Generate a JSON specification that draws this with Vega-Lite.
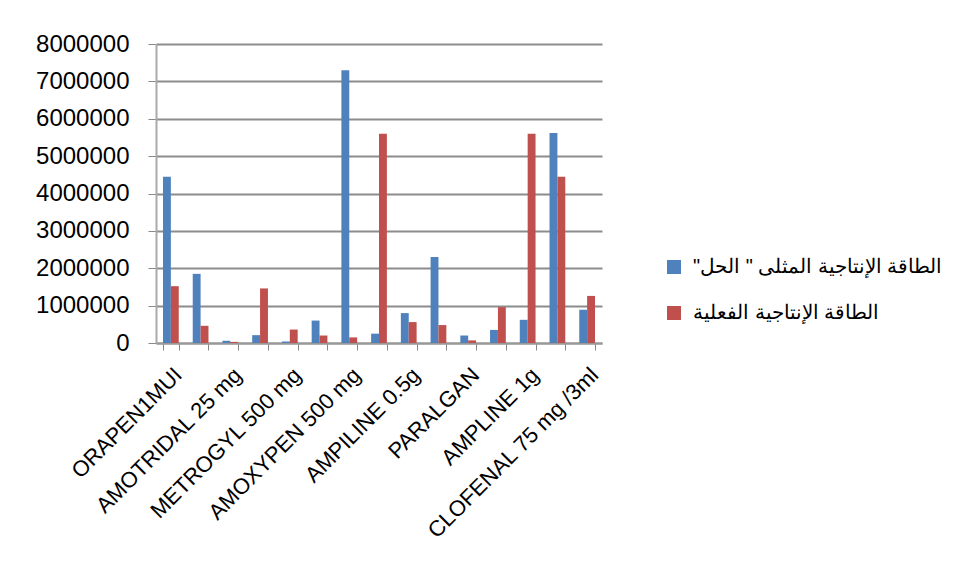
{
  "$schema": "https://vega.github.io/schema/vega-lite/v6.json",
  "width": 446,
  "height": 299,
  "padding": {"left": 35, "top": 32, "right": 10, "bottom": 10},
  "background": "white",
  "config": {
    "font": "Liberation Sans",
    "view": {"stroke": null}
  },
  "data": {
    "values": [
      {"drug": "ORAPEN1MUI", "idx": 0, "series": "الطاقة الإنتاجية المثلى \" الحل\"\u200F", "value": 4450000},
      {"drug": "ORAPEN1MUI", "idx": 0, "series": "الطاقة الإنتاجية الفعلية", "value": 1520000},
      {"drug": "Product 2", "idx": 1, "series": "الطاقة الإنتاجية المثلى \" الحل\"\u200F", "value": 1850000},
      {"drug": "Product 2", "idx": 1, "series": "الطاقة الإنتاجية الفعلية", "value": 460000},
      {"drug": "AMOTRIDAL 25 mg", "idx": 2, "series": "الطاقة الإنتاجية المثلى \" الحل\"\u200F", "value": 60000},
      {"drug": "AMOTRIDAL 25 mg", "idx": 2, "series": "الطاقة الإنتاجية الفعلية", "value": 30000},
      {"drug": "Product 4", "idx": 3, "series": "الطاقة الإنتاجية المثلى \" الحل\"\u200F", "value": 210000},
      {"drug": "Product 4", "idx": 3, "series": "الطاقة الإنتاجية الفعلية", "value": 1460000},
      {"drug": "METROGYL 500 mg", "idx": 4, "series": "الطاقة الإنتاجية المثلى \" الحل\"\u200F", "value": 40000},
      {"drug": "METROGYL 500 mg", "idx": 4, "series": "الطاقة الإنتاجية الفعلية", "value": 360000},
      {"drug": "Product 6", "idx": 5, "series": "الطاقة الإنتاجية المثلى \" الحل\"\u200F", "value": 600000},
      {"drug": "Product 6", "idx": 5, "series": "الطاقة الإنتاجية الفعلية", "value": 200000},
      {"drug": "AMOXYPEN 500 mg", "idx": 6, "series": "الطاقة الإنتاجية المثلى \" الحل\"\u200F", "value": 7300000},
      {"drug": "AMOXYPEN 500 mg", "idx": 6, "series": "الطاقة الإنتاجية الفعلية", "value": 150000},
      {"drug": "Product 8", "idx": 7, "series": "الطاقة الإنتاجية المثلى \" الحل\"\u200F", "value": 250000},
      {"drug": "Product 8", "idx": 7, "series": "الطاقة الإنتاجية الفعلية", "value": 5600000},
      {"drug": "AMPILINE 0.5g", "idx": 8, "series": "الطاقة الإنتاجية المثلى \" الحل\"\u200F", "value": 800000},
      {"drug": "AMPILINE 0.5g", "idx": 8, "series": "الطاقة الإنتاجية الفعلية", "value": 560000},
      {"drug": "Product 10", "idx": 9, "series": "الطاقة الإنتاجية المثلى \" الحل\"\u200F", "value": 2300000},
      {"drug": "Product 10", "idx": 9, "series": "الطاقة الإنتاجية الفعلية", "value": 480000},
      {"drug": "PARALGAN", "idx": 10, "series": "الطاقة الإنتاجية المثلى \" الحل\"\u200F", "value": 200000},
      {"drug": "PARALGAN", "idx": 10, "series": "الطاقة الإنتاجية الفعلية", "value": 70000},
      {"drug": "Product 12", "idx": 11, "series": "الطاقة الإنتاجية المثلى \" الحل\"\u200F", "value": 350000},
      {"drug": "Product 12", "idx": 11, "series": "الطاقة الإنتاجية الفعلية", "value": 960000},
      {"drug": "AMPLINE 1g", "idx": 12, "series": "الطاقة الإنتاجية المثلى \" الحل\"\u200F", "value": 620000},
      {"drug": "AMPLINE 1g", "idx": 12, "series": "الطاقة الإنتاجية الفعلية", "value": 5600000},
      {"drug": "Product 14", "idx": 13, "series": "الطاقة الإنتاجية المثلى \" الحل\"\u200F", "value": 5620000},
      {"drug": "Product 14", "idx": 13, "series": "الطاقة الإنتاجية الفعلية", "value": 4450000},
      {"drug": "CLOFENAL 75 mg /3ml", "idx": 14, "series": "الطاقة الإنتاجية المثلى \" الحل\"\u200F", "value": 890000},
      {"drug": "CLOFENAL 75 mg /3ml", "idx": 14, "series": "الطاقة الإنتاجية الفعلية", "value": 1260000}
    ]
  },
  "mark": {"type": "bar", "stroke": null},
  "encoding": {
    "x": {
      "field": "drug",
      "type": "nominal",
      "sort": {"field": "idx"},
      "title": null,
      "scale": {"paddingInner": 0.47, "paddingOuter": 0.235},
      "axis": {
        "labelAngle": -45,
        "labelFontSize": 22,
        "labelColor": "black",
        "labelLimit": 400,
        "labelExpr": "indexof(['ORAPEN1MUI','AMOTRIDAL 25 mg','METROGYL 500 mg','AMOXYPEN 500 mg','AMPILINE 0.5g','PARALGAN','AMPLINE 1g','CLOFENAL 75 mg /3ml'], datum.value) >= 0 ? datum.value : ''",
        "labelOverlap": false,
        "labelPadding": 14,
        "tickBand": "extent",
        "tickColor": "#888",
        "tickSize": 7,
        "domainColor": "#999",
        "domainWidth": 2
      }
    },
    "xOffset": {"field": "series", "type": "nominal", "sort": ["الطاقة الإنتاجية المثلى \" الحل\"\u200F", "الطاقة الإنتاجية الفعلية"], "scale": {"paddingInner": 0}},
    "y": {
      "field": "value",
      "type": "quantitative",
      "title": null,
      "scale": {"domain": [0, 8000000]},
      "axis": {
        "values": [0, 1000000, 2000000, 3000000, 4000000, 5000000, 6000000, 7000000, 8000000],
        "format": "d",
        "labelFontSize": 24,
        "labelColor": "black",
        "labelPadding": 19,
        "gridColor": "#8c8c8c",
        "gridWidth": 2,
        "domainColor": "#aaa",
        "domainWidth": 2,
        "tickColor": "#888",
        "tickSize": 8
      }
    },
    "color": {
      "field": "series",
      "type": "nominal",
      "sort": ["الطاقة الإنتاجية المثلى \" الحل\"\u200F", "الطاقة الإنتاجية الفعلية"],
      "scale": {"range": ["#4f81bd", "#c0504d"]},
      "legend": {
        "title": null,
        "orient": "none",
        "legendX": 508,
        "legendY": 213,
        "symbolType": "square",
        "symbolSize": 196,
        "symbolStrokeWidth": 0,
        "labelFontSize": 20,
        "labelColor": "black",
        "labelLimit": 400,
        "rowPadding": 26,
        "labelOffset": 9
      }
    }
  }
}
